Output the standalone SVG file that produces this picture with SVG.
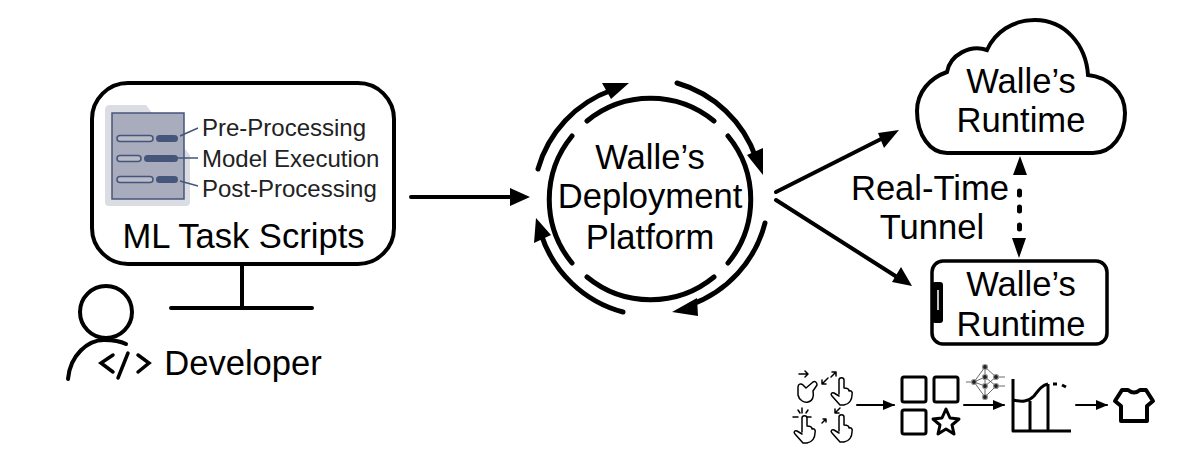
<svg xmlns="http://www.w3.org/2000/svg" width="1186" height="450" viewBox="0 0 1186 450">
<style>
text{font-family:"Liberation Sans",Arial,sans-serif;fill:#000;font-size:34.6px;text-anchor:middle}
.s{font-size:24px;text-anchor:start;fill:#222}
.l{fill:none;stroke:#000;stroke-width:4;stroke-linecap:round}
.r{fill:none;stroke:#000;stroke-width:5;stroke-linecap:round}
.t{fill:none;stroke:#000;stroke-width:2;stroke-linecap:round;stroke-linejoin:round}
.h{fill:none;stroke:#000;stroke-width:1.500;stroke-linecap:round;stroke-linejoin:round}
.q{fill:none;stroke:#000;stroke-width:3;stroke-linejoin:round}
.n{fill:#222;stroke:#999;stroke-width:1.200}
.w{fill:none;stroke:#444;stroke-width:.8}
.p1{fill:#b9bbc9;stroke:#46557a;stroke-width:1.500}
.p2{fill:#46557a}
.d{stroke:#46557a;stroke-width:1.500;fill:none}
</style>
<defs>
<path id="hand" d="M-2,3V-11C-2,-14 3,-14 3,-11V-3C6,-3 8,-2 8,0C10,-1 12,1 11,4C11,9 8,13 3,14L-1,14L-9,5C-11,3 -9,1 -7,2L-2,5"/>
<marker id="a" markerWidth="6" markerHeight="6" refX="5.500" refY="3" orient="auto"><path d="M0,.5L6,3L0,5.500Z"/></marker>
</defs>
<g id="monitor">
<rect x="92" y="83" width="302" height="181" rx="36" fill="#fff" stroke="#000" stroke-width="4"/>
<path class="l" d="M242,264V308M171,308H312"/>
<path d="M105,110Q105,105 110,105H146L152,113H184V148L190,155V202Q190,206 186,206H109Q105,206 105,202Z" fill="#dcdde2"/>
<rect x="112" y="113" width="72" height="86" fill="#a9acbc" stroke="#46557a" stroke-width="1.500"/>
<rect class="p1" x="117" y="135.500" width="36" height="6" rx="3"/><rect class="p2" x="156" y="135" width="22" height="7" rx="3.500"/>
<rect class="p1" x="117" y="155.500" width="24" height="6" rx="3"/><rect class="p2" x="144" y="155" width="34" height="7" rx="3.500"/>
<rect class="p1" x="117" y="176.500" width="36" height="6" rx="3"/><rect class="p2" x="156" y="176" width="22" height="7" rx="3.500"/>
<path class="d" d="M180,136L198,128M178,158H198M180,181L198,186"/>
<text class="s" x="202" y="136">Pre-Processing</text>
<text class="s" x="202" y="167">Model Execution</text>
<text class="s" x="202" y="197">Post-Processing</text>
<text x="243.500" y="248">ML Task Scripts</text>
</g>
<g id="developer">
<circle class="l" cx="106" cy="312" r="26"/>
<path class="l" d="M68,379C70,355 88,340 104,340C112,340 120,341 126,344"/>
<path class="l" d="M113,355L101,363L113,372M128,353L118,378M138,355L149,363L138,372" style="stroke-width:3.500"/>
<text x="243" y="375">Developer</text>
</g>
<g id="platform">
<path class="r" d="M587,121A100,100 0 0 1 714,121M728,136A100,100 0 0 1 728,263M714,277A100,100 0 0 1 587,277M572,263A100,100 0 0 1 572,136"/>
<path class="r" d="M538,169A118,118 0 0 1 612,90M677,83A118,118 0 0 1 756,158M765,223A118,118 0 0 1 690,305M623,312A118,118 0 0 1 541,234"/>
<path d="M602,83L629,83L611,99ZM763,175L747,155L763,148ZM672,312L697,298L698,316ZM536,218L534,243L551,235Z"/>
<text x="650" y="169">Walle’s</text>
<text x="650" y="208">Deployment</text>
<text x="650" y="249">Platform</text>
</g>
<g id="cloud">
<path d="M947,153L1093,153C1112,153 1125,135 1125,113C1125,92 1108,77 1088,75C1086,45 1065,20 1035,20C1013,20 995,32 987,50C970,44 950,55 947,72C930,78 917,92 917,111C917,135 930,153 947,153Z" fill="#fff" stroke="#000" stroke-width="4"/>
<text x="1021" y="93">Walle’s</text>
<text x="1021" y="132">Runtime</text>
</g>
<g id="phone">
<rect x="932" y="261" width="175" height="83" rx="11" fill="#fff" stroke="#000" stroke-width="3.500"/>
<rect x="932" y="282" width="11" height="41" rx="3"/>
<path d="M938,290V310" stroke="#fff" stroke-width="1.500"/>
<text x="1021" y="296">Walle’s</text>
<text x="1021" y="336">Runtime</text>
</g>
<g id="tunnel-label">
<text x="930" y="200">Real-Time</text>
<text x="932" y="239">Tunnel</text>
</g>
<g id="connectors">
<path class="l" d="M411,197H515M776,192L885,137M776,200L897,277"/>
<path d="M530,197L510,188V206ZM899,130L878,133L884,148ZM912,286L892,282L901,267Z"/>
<path d="M1020,156L1013,175H1027ZM1019,258L1012,238H1026Z"/>
<path d="M1019.500,191V195M1019.500,207V211M1019.500,225V229" stroke="#000" stroke-width="5" stroke-linecap="round"/>
</g>
<g id="workflow">
<path class="h" d="M798,387L798,395C799,400 804,403 808,402C813,401 814,396 813,391L817,385C817,382 815,381 813,382L806,388L803,385C801,383 798,384 798,387Z"/>
<use href="#hand" class="h" transform="translate(841,391)"/>
<use href="#hand" class="h" transform="translate(804,429)"/>
<use href="#hand" class="h" transform="translate(841,428)"/>
<path class="h" d="M799,374H808M805,371L808,374L805,377M822,384L828,378M822,380V384H826M831,377L836,372M832,372H836V376"/>
<path class="h" d="M802,408V413M798,410L800,413M808,410L806,413M793,417H798M807,417H811"/>
<path class="h" d="M822,423L826,419M823,419H826V422M835,413L840,408M835,409V413H839"/>
<path class="t" d="M857,405H894" marker-end="url(#a)"/>
<rect class="q" x="902" y="377" width="24" height="25" rx="2"/>
<rect class="q" x="934" y="377" width="24" height="25" rx="2"/>
<rect class="q" x="902" y="410" width="24" height="24" rx="2"/>
<path class="q" d="M946,409L950,418L959,419L952,425L954,434L946,429L938,434L940,425L933,419L942,418Z"/>
<path class="w" d="M974,382L985,367L996,377M974,382L985,377L996,386M974,382L985,386L996,377M974,382L985,397L996,386M985,367V397M966,382H971M999,377H1005M999,386H1005"/>
<circle class="n" cx="985" cy="367" r="2.500"/><circle class="n" cx="985" cy="377" r="2.500"/><circle class="n" cx="985" cy="386" r="2.500"/><circle class="n" cx="985" cy="397" r="2.500"/><circle class="n" cx="974" cy="382" r="2.500"/><circle class="n" cx="996" cy="377" r="2.500"/><circle class="n" cx="996" cy="386" r="2.500"/>
<path class="t" d="M964,405H1004" marker-end="url(#a)"/>
<path class="q" d="M1013,379V431H1071M1030,431V401M1048,431V384M1013,400C1022,402 1028,402 1034,396C1040,388 1043,385 1048,384"/>
<path class="q" d="M1053,384H1057M1062,385L1066,387"/>
<path class="t" d="M1076,405H1107" marker-end="url(#a)"/>
<path class="q" style="stroke-width:4" d="M1128,390Q1134,395 1140,390L1146,390L1153,401L1147,406V421H1121V406L1115,401L1122,390Z"/>
</g>
</svg>
